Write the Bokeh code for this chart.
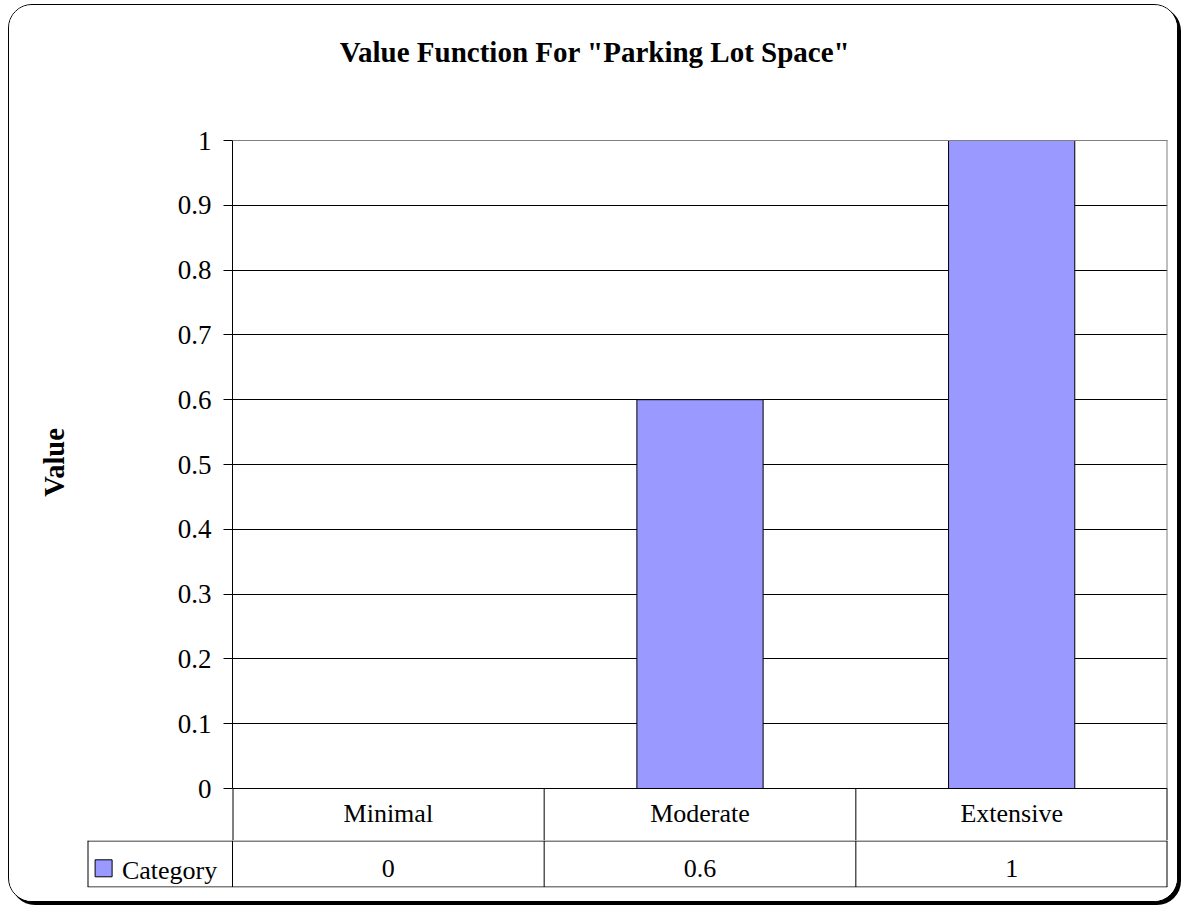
from bokeh.plotting import figure
from bokeh.layouts import column
from bokeh.models import ColumnDataSource, FactorRange, Range1d, FixedTicker, Span
from bokeh.core.properties import value
from bokeh.embed import file_html
from bokeh.resources import INLINE

# ---------------- data ----------------
CATEGORIES = ["Minimal", "Moderate", "Extensive"]
VALUES = [0, 0.6, 1]
SERIES_NAME = "Category"
TICK_LABELS = ["0", "0.1", "0.2", "0.3", "0.4", "0.5", "0.6", "0.7", "0.8", "0.9", "1"]
TITLE = 'Value Function For "Parking Lot Space"'
Y_LABEL = "Value"

# ---------------- layout / style constants ----------------
FONT = "Liberation Serif"
BAR_COLOR = "#9999FF"
GRAY = "#808080"
W = 1168
L, R = 223, 10                  # borders around the plot area (x)
L_TABLE = 78                    # value row starts further left (series key column)
H_TITLE = 79
TITLE_CX, TITLE_CY = 585.5, 46.3
PLOT_PX = 648                   # pixels of one value unit
ABOVE_PX, BELOW_PX = 56, 52     # chart frame space above 1 / below 0 (category row)
H_CHART = ABOVE_PX + PLOT_PX + BELOW_PX
ROW1_CY = 25.3                  # category text centre below 0
H_TABLE, TABLE_FRAME = 61, 47
ROW2_CY, KEY_TEXT_CY = 27.5, 30
KEY_DX, KEY_CY, KEY_TEXT_DX = 16.1, 27.8, 34.4

ticks = [float(t) for t in TICK_LABELS]
n = len(CATEGORIES)
ppu = (W - L - R) / n                      # pixels per category
leg = (W - L_TABLE - R) / ppu - n          # width of key column, category units


def base_fig(**kw):
    f = figure(output_backend="svg", toolbar_location=None,
               background_fill_color="white", border_fill_color="white", **kw)
    f.outline_line_color = None
    if "frame_align" in f.properties():
        f.frame_align = False
    return f


# ================= title =================
tf = base_fig(width=W, height=H_TITLE, x_range=Range1d(0, W),
              y_range=Range1d(-H_TITLE, 0), x_axis_location=None,
              y_axis_location=None, min_border=0)
tf.grid.visible = False
tf.text(x=[TITLE_CX], y=[-TITLE_CY], text=[TITLE], text_font=value(FONT),
        text_font_size="29px", text_font_style="bold", text_align="center",
        text_baseline="middle", text_color="black")

# ================= chart with category row =================
y0 = -BELOW_PX / PLOT_PX
p = base_fig(width=W, height=H_CHART,
             x_range=FactorRange(*CATEGORIES, range_padding=0),
             y_range=Range1d(y0, 1 + ABOVE_PX / PLOT_PX),
             x_axis_location=None,
             min_border_left=L, min_border_right=R,
             min_border_top=0, min_border_bottom=0)
p.xgrid.visible = False
p.ygrid.ticker = FixedTicker(ticks=ticks)
p.ygrid.grid_line_color = "black"

ax = p.yaxis[0]
ax.bounds = (0, 1)
ax.ticker = FixedTicker(ticks=ticks)
ax.major_label_overrides = {t: s for t, s in zip(ticks, TICK_LABELS)}
ax.major_label_text_font = FONT
ax.major_label_text_font_size = "27px"
ax.major_label_text_color = "black"
ax.major_label_standoff = 12
ax.major_tick_out = 9
ax.major_tick_in = 0
ax.minor_tick_out = 0
ax.minor_tick_in = 0
ax.axis_line_color = "black"
ax.major_tick_line_color = "black"
ax.axis_label = Y_LABEL
ax.axis_label_text_font = FONT
ax.axis_label_text_font_size = "28.5px"
ax.axis_label_text_font_style = "bold"
ax.axis_label_text_color = "black"
ax.axis_label_standoff = 105

src = ColumnDataSource(dict(cat=CATEGORIES, val=VALUES,
                            lab=[f"{v:g}" for v in VALUES],
                            r1=[-ROW1_CY / PLOT_PX] * n))
p.vbar(x="cat", top="val", width=0.405, source=src,
       fill_color=BAR_COLOR, line_color="black", line_width=1)

# gray plot-area border (top and right)
p.add_layout(Span(location=1, dimension="width", line_color=GRAY, line_width=1))
p.segment(x0=[n], x1=[n], y0=[0], y1=[1], line_color=GRAY, line_width=2)

# category row of the data table
p.segment(x0=[0, n], x1=[0, n], y0=[0, 0], y1=[y0, y0],
          line_color="black", line_width=2)
p.segment(x0=list(range(1, n)), x1=list(range(1, n)),
          y0=[0] * (n - 1), y1=[y0] * (n - 1), line_color="black", line_width=1)
p.text(x="cat", y="r1", text="cat", source=src, text_font=value(FONT),
       text_font_size="26px", text_align="center", text_baseline="middle",
       text_color="black")

# ================= value row with series key =================
t = base_fig(width=W, height=H_TABLE, x_range=Range1d(-leg, n),
             y_range=Range1d(-TABLE_FRAME, 0),
             x_axis_location=None, y_axis_location=None,
             min_border_left=L_TABLE, min_border_right=R,
             min_border_top=0, min_border_bottom=H_TABLE - TABLE_FRAME)
t.grid.visible = False

bottom = -TABLE_FRAME + 0.5
t.segment(x0=list(range(0, n)), x1=list(range(0, n)),
          y0=[0] * n, y1=[bottom] * n, line_color="black", line_width=1)
t.segment(x0=[n, -leg], x1=[n, -leg], y0=[0, 0], y1=[bottom, bottom],
          line_color="black", line_width=2)
t.segment(x0=[-leg, -leg], x1=[n, n], y0=[-0.5, bottom],
          y1=[-0.5, bottom], line_color="black", line_width=1)

tsrc = ColumnDataSource(dict(x=[i + 0.5 for i in range(n)],
                             lab=[f"{v:g}" for v in VALUES],
                             r2=[-ROW2_CY] * n))
t.text(x="x", y="r2", text="lab", source=tsrc, text_font=value(FONT),
       text_font_size="26px", text_align="center", text_baseline="middle",
       text_color="black")

# series key
t.scatter(x=[-leg + KEY_DX / ppu], y=[-KEY_CY], marker="square", size=17,
          fill_color=BAR_COLOR, line_color="black", line_width=1)
t.text(x=[-leg + KEY_TEXT_DX / ppu], y=[-KEY_TEXT_CY], text=[SERIES_NAME],
       text_font=value(FONT), text_font_size="26px", text_align="left",
       text_baseline="middle", text_color="black")

layout = column(tf, p, t, spacing=0,
                styles={"border": "1.5px solid black", "border-radius": "24px",
                        "box-shadow": "3px 3px 0 0 black", "overflow": "hidden",
                        "margin-top": "4px", "margin-left": "7.5px",
                        "background": "white"})

open("out.html", "w").write(file_html(layout, INLINE))
